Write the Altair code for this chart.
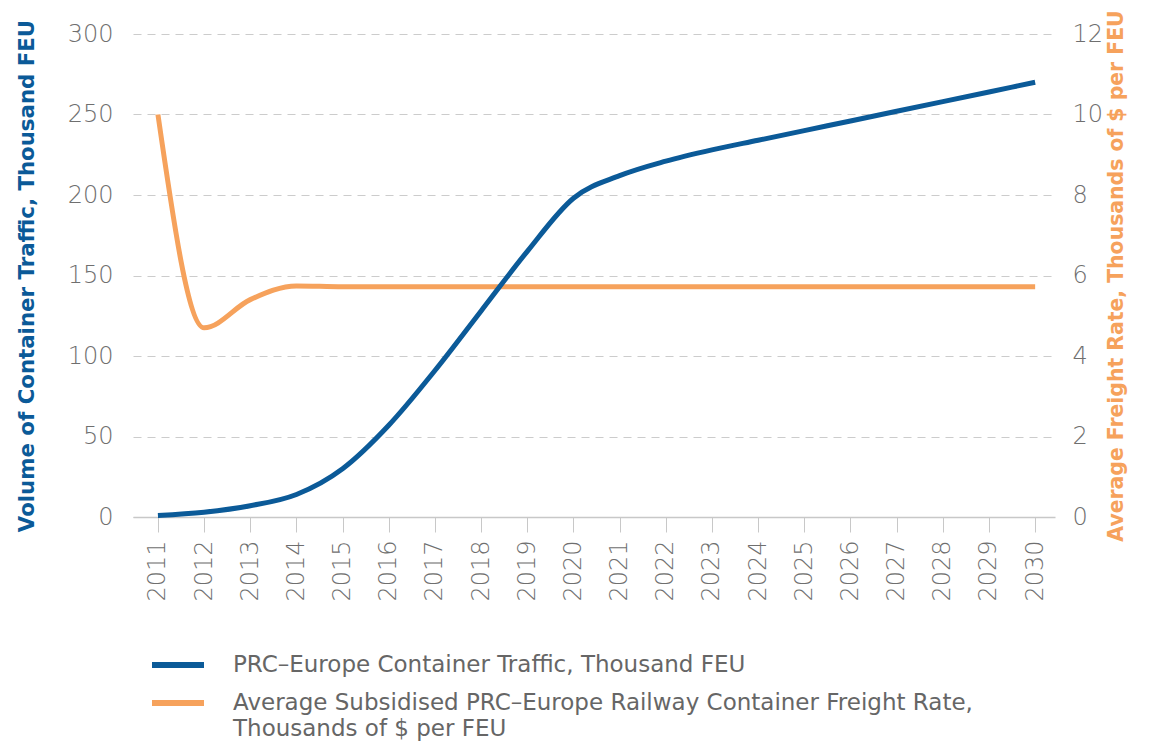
import altair as alt
import pandas as pd

years = list(range(2011, 2031))
traffic = [1, 3, 7, 14, 30, 57, 91, 128, 165, 198, 212, 221, 228, 234, 240, 246, 252, 258, 264, 270]
rate = [10.0, 4.7, 5.4, 5.74, 5.72, 5.72, 5.72, 5.72, 5.72, 5.72, 5.72, 5.72, 5.72, 5.72, 5.72, 5.72, 5.72, 5.72, 5.72, 5.72]

series_names = [
    "PRC\u2013Europe Container Traffic, Thousand FEU",
    "Average Subsidised PRC\u2013Europe Railway Container Freight Rate,|Thousands of $ per FEU",
]
left_title = "Volume of Container Traffic, Thousand FEU"
right_title = "Average Freight Rate, Thousands of $ per FEU"
left_ticks = [0, 50, 100, 150, 200, 250, 300]
right_ticks = [0, 2, 4, 6, 8, 10, 12]

BLUE = "#0b5a98"
ORANGE = "#f6a25c"
GRAY = "#6f6f6f"
FONT = "DejaVu Sans"

df = pd.DataFrame({"year": years, "traffic": traffic, "rate": rate})

x = alt.X(
    "year:Q",
    scale=alt.Scale(domain=[2010.46, 2030.43], nice=False, zero=False),
    axis=alt.Axis(
        values=years, format="d", labelAngle=270, labelAlign="right", labelBaseline="middle",
        labelPadding=8, tickSize=15, tickColor="#c8c8c8", domainColor="#c8c8c8", domainWidth=1.5,
        labelColor=GRAY, labelFontSize=24, labelFont=FONT, labelFontWeight=300, grid=False,
        title=None, labelFlush=False,
    ),
)

blue_line = alt.Chart(df).mark_line(interpolate="monotone", strokeWidth=5, color=BLUE).encode(
    x=x,
    y=alt.Y(
        "traffic:Q",
        scale=alt.Scale(domain=[0, 300], nice=False),
        axis=alt.Axis(
            values=left_ticks, title=left_title, titleColor=BLUE, titleFont=FONT, titleFontSize=21.3,
            titleFontWeight="bold", titlePadding=30, labelColor=GRAY, labelFont=FONT, labelFontSize=24,
            labelFontWeight=300, labelPadding=20, domain=False, ticks=False, grid=True,
            gridDash=[8, 6], gridColor="#cccccc", gridWidth=1.2,
        ),
    ),
)

orange_line = alt.Chart(df).mark_line(interpolate="monotone", strokeWidth=5, color=ORANGE).encode(
    x=x,
    y=alt.Y(
        "rate:Q",
        scale=alt.Scale(domain=[0, 12], nice=False),
        axis=alt.Axis(
            orient="right", values=right_ticks, title=right_title, titleColor=ORANGE, titleFont=FONT,
            titleFontSize=20.4, titleFontWeight="bold", titleAngle=270, titlePadding=24, labelColor=GRAY,
            labelFont=FONT, labelFontSize=24, labelFontWeight=300, labelPadding=17, domain=False,
            ticks=False, grid=False,
        ),
    ),
)

lines = alt.layer(orange_line, blue_line).resolve_scale(y="independent")


def legend_entry(i, color, yp):
    d = alt.Data(values=[{"label": series_names[i]}])
    sw = alt.Chart(d).mark_rule(strokeWidth=6, color=color).encode(
        x=alt.value(19), x2=alt.value(71), y=alt.value(yp)
    )
    tx = alt.Chart(d).mark_text(
        align="left", baseline="middle", fontSize=23, font=FONT, color="#666666", lineBreak="|",
        lineHeight=26,
    ).encode(x=alt.value(100), y=alt.value(yp), text="label:N")
    return sw + tx


chart = alt.layer(
    lines,
    legend_entry(0, BLUE, 631),
    legend_entry(1, ORANGE, 669),
).properties(
    width=922, height=483,
    autosize=alt.AutoSizeParams(type="none"),
    padding={"left": 125, "top": 26, "right": 94, "bottom": 226},
).configure_view(stroke=None)

chart.save("out.html", embed_options={"renderer": "svg", "actions": False})
